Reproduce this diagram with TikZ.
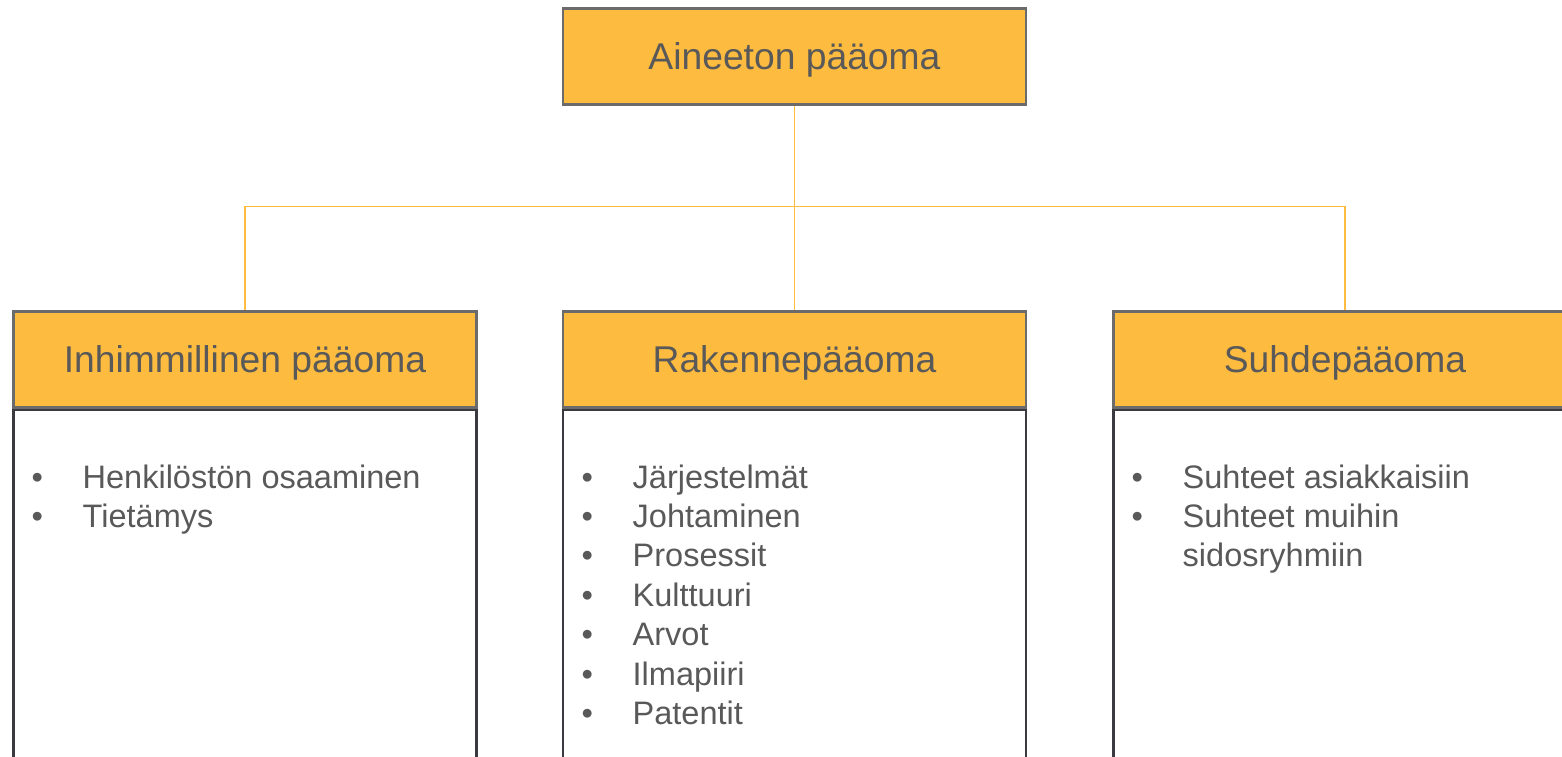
\documentclass[tikz,border=0pt]{standalone}
\usepackage{fontspec}
\setmainfont{Liberation Sans}
\usetikzlibrary{positioning}

\definecolor{paaomaorange}{HTML}{FDBB3F}
\definecolor{textgray}{HTML}{595959}
\definecolor{hdrline}{HTML}{6B6B6B}
\definecolor{bodyline}{HTML}{3A3A40}

\newcommand{\itm}[1]{\makebox[0.51cm][l]{\textbullet}#1}

\tikzset{
  hdr/.style={rectangle,draw=hdrline,line width=0.6pt,fill=paaomaorange,
    text=textgray,minimum width=4.63cm,minimum height=0.96cm,inner sep=0pt,
    text depth=0pt,font=\fontsize{10.6}{12.7}\selectfont},
  body/.style={rectangle,draw=bodyline,line width=0.6pt,
    minimum width=4.63cm,minimum height=3.9cm,inner sep=0pt},
  list/.style={anchor=north west,inner sep=0pt,align=left,text=textgray,
    font=\fontsize{9.25}{11.2}\selectfont},
  link/.style={draw=paaomaorange,line width=0.35pt}
}

\begin{document}
\begin{tikzpicture}
      \useasboundingbox (0,0) rectangle (15.62,-7.57);
      \clip (0,0) rectangle (15.62,-7.57);
      \node[hdr] (top) at (7.945,-0.565) {Aineeton pääoma};
      \begin{scope}[every node/.style={hdr}]
        \node (h1) at (2.45,-3.595) {Inhimmillinen pääoma};
        \node (h2) at (7.945,-3.595) {Rakennepääoma};
        \node (h3) at (13.45,-3.595) {Suhdepääoma};
      \end{scope}
      \node[body,below=0pt of h1] (b1) {};
      \node[body,below=0pt of h2] (b2) {};
      \node[body,below=0pt of h3] (b3) {};
      % connectors
      \path[link] (top.south) edge (h2.north);
      \draw[link] (h1.north) -- ++(0,1.04) -| (h3.north);
      % item lists
      \node[list] (l1) at (0.31,-4.64) {\itm{Henkilöstön osaaminen}\\
        \itm{Tietämys}};
      \node[list] (l2) at (5.81,-4.64) {\itm{Järjestelmät}\\
        \itm{Johtaminen}\\ \itm{Prosessit}\\ \itm{Kulttuuri}\\
        \itm{Arvot}\\ \itm{Ilmapiiri}\\ \itm{Patentit}};
      \node[list] (l3) at (11.31,-4.64) {\itm{Suhteet asiakkaisiin}\\
        \itm{Suhteet muihin}\\ \hspace*{0.51cm}sidosryhmiin};
\end{tikzpicture}
\end{document}
